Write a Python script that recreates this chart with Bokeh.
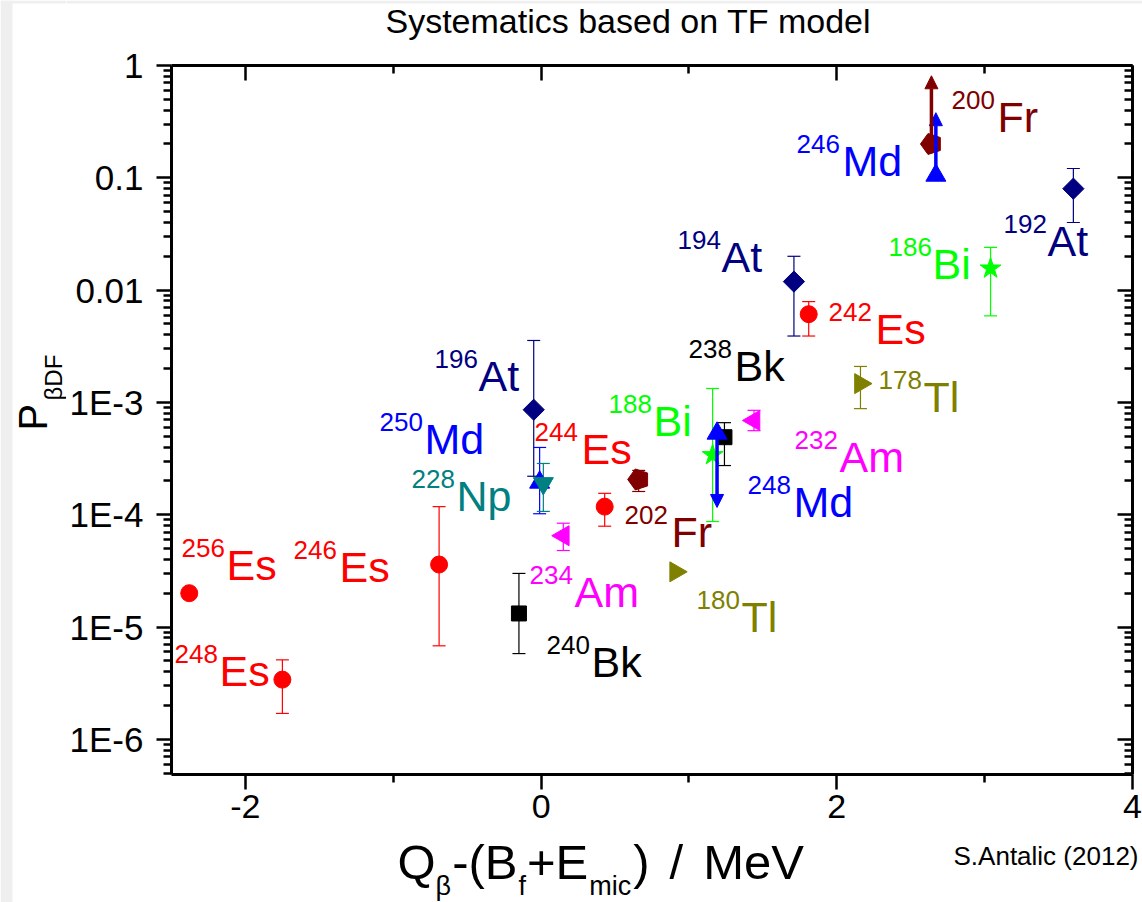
import math
from bokeh.plotting import figure
from bokeh.layouts import row, column
from bokeh.models import (Range1d, LinearAxis, LogAxis, FixedTicker, CustomJSTickFormatter,
                          ColumnDataSource, Whisker, TeeHead, Arrow, NormalHead, Label,
                          BoxAnnotation)
from bokeh.embed import file_html
from bokeh.resources import INLINE

NAN = float("nan")

# ---------------- axes data ----------------
x_range_limits = [-2.5, 4.0]
y_range_limits = [4.86e-7, 1.0]
x_tick_values = [-2, 0, 2, 4]
x_tick_labels = ["-2", "0", "2", "4"]
x_minor_ticks = [-1, 1, 3]
y_tick_values = [1e-6, 1e-5, 1e-4, 1e-3, 1e-2, 1e-1, 1.0]
y_tick_labels = ["1E-6", "1E-5", "1E-4", "1E-3", "0.01", "0.1", "1"]
y_minor_mantissas = [2, 3, 4, 5, 6, 7, 8, 9]

title_text = "Systematics based on TF model"
credit_text = "S.Antalic (2012)"

# ---------------- series data ----------------
es_mass = ["256", "248", "246", "244", "242"]
es_q = [-2.38, -1.75, -0.69, 0.43, 1.81]
es_p = [2.0e-5, 3.4e-6, 3.6e-5, 1.18e-4, 6.1e-3]
es_lo = [NAN, 1.7e-6, 6.8e-6, 7.9e-5, 3.9e-3]
es_hi = [NAN, 5.1e-6, 1.18e-4, 1.55e-4, 7.9e-3]

bk_mass = ["240", "238"]
bk_q = [-0.15, 1.24]
bk_p = [1.32e-5, 4.9e-4]
bk_lo = [5.8e-6, 2.74e-4]
bk_hi = [3.0e-5, 6.6e-4]

at_mass = ["196", "194", "192"]
at_q = [-0.05, 1.71, 3.60]
at_p = [8.6e-4, 1.19e-2, 8.0e-2]
at_lo = [2.2e-4, 3.9e-3, 4.0e-2]
at_hi = [3.56e-3, 2.0e-2, 1.21e-1]

md_mass = ["250", "248", "246"]
md_q = [-0.01, 1.19, 2.67]
md_p = [1.94e-4, 5.3e-4, 1.05e-1]
md_lo = [1.02e-4, NAN, NAN]
md_hi = [3.97e-4, NAN, NAN]
md_limit = [NAN, 1.16e-4, 3.8e-1]

np_mass = ["228"]
np_q = [0.015]
np_p = [1.9e-4]
np_lo = [1.07e-4]
np_hi = [2.86e-4]

am_mass = ["234", "232"]
am_q = [0.15, 1.44]
am_p = [6.5e-5, 6.9e-4]
am_lo = [4.8e-5, 5.6e-4]
am_hi = [8.4e-5, 8.5e-4]

fr_mass = ["202", "200"]
fr_q = [0.66, 2.64]
fr_p = [2.06e-4, 0.20]
fr_lo = [1.61e-4, NAN]
fr_hi = [2.48e-4, NAN]
fr_limit = [NAN, 0.81]

tl_mass = ["180", "178"]
tl_q = [0.91, 2.16]
tl_p = [3.1e-5, 1.47e-3]
tl_lo = [NAN, 8.8e-4]
tl_hi = [NAN, 2.09e-3]

bi_mass = ["188", "186"]
bi_q = [1.16, 3.04]
bi_p = [3.4e-4, 1.56e-2]
bi_lo = [8.7e-5, 5.9e-3]
bi_hi = [1.33e-3, 2.4e-2]

# ---------------- layout / style ----------------
PAGE_W, PAGE_H = 1142, 902
FRAME_L, FRAME_T, FRAME_W, FRAME_H = 170, 65, 961, 709
YLAB_W = 66          # left strip holding the rotated y title
TITLE_H = 40         # top strip holding the chart title
XLAB_H = 70          # bottom strip holding the x title
FONT = "Liberation Sans"
TXT_SHIFT = 17       # anchor -> visual baseline correction (page px)
EDGE_GRAY = "#efefef"

# label layout in page pixels: superscript left x, element left x, element baseline y
label_layout = {
    "256Es": (180, 225, 581), "248Es": (173, 218, 687), "246Es": (292, 338, 583),
    "244Es": (533, 580, 465), "242Es": (827, 874, 345),
    "240Bk": (545, 590, 678), "238Bk": (687, 733, 382),
    "196At": (433, 477, 392), "194At": (676, 720, 273), "192At": (1002, 1046, 257),
    "250Md": (378, 423, 455), "248Md": (746, 792, 518), "246Md": (795, 841, 177),
    "228Np": (410, 455, 512),
    "234Am": (528, 573, 608), "232Am": (793, 838, 473),
    "202Fr": (623, 670, 548), "200Fr": (950, 996, 133),
    "180Tl": (695, 740, 633), "178Tl": (877, 922, 413),
    "188Bi": (607, 652, 437), "186Bi": (887, 931, 280),
}

groups = [
    dict(sym="Es", color="#FF0000", marker="circle", size=17, angle=0.0,
         mass=es_mass, q=es_q, p=es_p, lo=es_lo, hi=es_hi, limit=None),
    dict(sym="Bk", color="#000000", marker="square", size=15, angle=0.0,
         mass=bk_mass, q=bk_q, p=bk_p, lo=bk_lo, hi=bk_hi, limit=None),
    dict(sym="At", color="#000080", marker="square", size=15, angle=math.pi / 4,
         mass=at_mass, q=at_q, p=at_p, lo=at_lo, hi=at_hi, limit=None),
    dict(sym="Md", color="#0000FF", marker="triangle", size=20, angle=0.0,
         mass=md_mass, q=md_q, p=md_p, lo=md_lo, hi=md_hi, limit=md_limit),
    dict(sym="Np", color="#008080", marker="inverted_triangle", size=20, angle=0.0,
         mass=np_mass, q=np_q, p=np_p, lo=np_lo, hi=np_hi, limit=None),
    dict(sym="Am", color="#FF00FF", marker="triangle", size=20, angle=math.pi / 2,
         mass=am_mass, q=am_q, p=am_p, lo=am_lo, hi=am_hi, limit=None),
    dict(sym="Fr", color="#800000", marker="pentagon", size=11, angle=0.0,
         mass=fr_mass, q=fr_q, p=fr_p, lo=fr_lo, hi=fr_hi, limit=fr_limit),
    dict(sym="Tl", color="#808000", marker="triangle", size=20, angle=-math.pi / 2,
         mass=tl_mass, q=tl_q, p=tl_p, lo=tl_lo, hi=tl_hi, limit=None),
    dict(sym="Bi", color="#00FF00", marker="star", size=22, angle=0.0,
         mass=bi_mass, q=bi_q, p=bi_p, lo=bi_lo, hi=bi_hi, limit=None),
]


def X(px):
    a, b = x_range_limits
    return a + (px - FRAME_L) / FRAME_W * (b - a)


def Y(py):
    lo, hi = math.log10(y_range_limits[0]), math.log10(y_range_limits[1])
    return 10 ** (hi - (py - FRAME_T) / FRAME_H * (hi - lo))


MAIN_W = PAGE_W - YLAB_W
p = figure(frame_width=FRAME_W, frame_height=FRAME_H,
           x_range=Range1d(*x_range_limits), y_range=Range1d(*y_range_limits),
           y_axis_type="log", output_backend="svg", toolbar_location=None,
           min_border_left=FRAME_L - YLAB_W, min_border_right=PAGE_W - FRAME_L - FRAME_W,
           min_border_top=FRAME_T - TITLE_H,
           min_border_bottom=PAGE_H - FRAME_T - FRAME_H - XLAB_H,
           background_fill_color="white", border_fill_color="white")
p.outline_line_color = None
p.xgrid.visible = False
p.ygrid.visible = False

fmt_code = """
let best = -1, bd = Infinity;
for (let i = 0; i < vals.length; i++) {
  const d = Math.abs(vals[i] - tick);
  if (d < bd) { bd = d; best = i; }
}
return (best >= 0 && bd <= 1e-6 * Math.max(Math.abs(vals[best]), 1e-12) + 1e-12) ? labs[best] : "";
"""
x_fmt = CustomJSTickFormatter(args=dict(vals=x_tick_values, labs=x_tick_labels), code=fmt_code)
y_fmt = CustomJSTickFormatter(args=dict(vals=y_tick_values, labs=y_tick_labels), code=fmt_code)
blank_fmt = CustomJSTickFormatter(code="return '';")

y_minor = [m * v for v in y_tick_values + [1e-7] for m in y_minor_mantissas]


def style_axis(ax, ticker, formatter, inward, font_size):
    ax.ticker = ticker
    ax.formatter = formatter
    ax.axis_line_width = 3
    ax.axis_line_color = "black"
    ax.major_tick_line_width = 2.5
    ax.minor_tick_line_width = 2.5
    ax.major_tick_line_color = "black"
    ax.minor_tick_line_color = "black"
    if inward:
        ax.major_tick_in, ax.major_tick_out = 15, 0
        ax.minor_tick_in, ax.minor_tick_out = 8, 0
    else:
        ax.major_tick_in, ax.major_tick_out = 0, 15
        ax.minor_tick_in, ax.minor_tick_out = 0, 8
    ax.major_label_text_font = FONT
    ax.major_label_text_font_size = font_size
    ax.major_label_text_color = "black"


style_axis(p.xaxis[0], FixedTicker(ticks=x_tick_values, minor_ticks=x_minor_ticks), x_fmt, False, "34px")
style_axis(p.yaxis[0], FixedTicker(ticks=y_tick_values, minor_ticks=y_minor), y_fmt, False, "35px")
p.xaxis[0].major_label_standoff = 5
p.yaxis[0].major_label_standoff = 13

top_ax = LinearAxis()
style_axis(top_ax, FixedTicker(ticks=x_tick_values, minor_ticks=x_minor_ticks), blank_fmt, True, "1px")
top_ax.major_label_standoff = 0
p.add_layout(top_ax, "above")
right_ax = LogAxis()
style_axis(right_ax, FixedTicker(ticks=y_tick_values, minor_ticks=y_minor), blank_fmt, True, "1px")
right_ax.major_label_standoff = 0
p.add_layout(right_ax, "right")

# ---------------- data marks ----------------
for g in groups:
    c = g["color"]
    eb = [(q, lo, hi) for q, lo, hi in zip(g["q"], g["lo"], g["hi"]) if not math.isnan(lo)]
    if eb:
        src_e = ColumnDataSource(dict(base=[e[0] for e in eb], lower=[e[1] for e in eb],
                                      upper=[e[2] for e in eb]))
        w = Whisker(source=src_e, base="base", lower="lower", upper="upper", dimension="height",
                    line_color=c, line_width=1.2,
                    upper_head=TeeHead(size=13, line_color=c, line_width=1.2),
                    lower_head=TeeHead(size=13, line_color=c, line_width=1.2))
        w.level = "underlay"
        p.add_layout(w)
    src = ColumnDataSource(dict(q=g["q"], p=g["p"]))
    if g["marker"] == "pentagon":
        p.ngon(x="q", y="p", radius=g["size"], radius_units="screen", n=5, angle=math.pi / 2,
               source=src, fill_color=c, line_color=c)
    else:
        p.scatter(x="q", y="p", source=src, marker=g["marker"], size=g["size"], angle=g["angle"],
                  fill_color=c, line_color=c)
    if g["limit"] is not None:
        for q, val, lim in zip(g["q"], g["p"], g["limit"]):
            if math.isnan(lim):
                continue
            p.add_layout(Arrow(x_start=q, y_start=val, x_end=q, y_end=lim,
                               line_color=c, line_width=3.5,
                               end=NormalHead(size=13, fill_color=c, line_color=c)))
    for m in g["mass"]:
        key = m + g["sym"]
        sx, ex, by = label_layout[key]
        p.add_layout(Label(x=X(sx), y=Y(by - 21 - TXT_SHIFT + 4), text=m, text_font=FONT,
                           text_font_size="26px", text_color=c, text_align="left",
                           text_baseline="alphabetic"))
        p.add_layout(Label(x=X(ex), y=Y(by - TXT_SHIFT), text=g["sym"], text_font=FONT,
                           text_font_size="43px", text_color=c, text_align="left",
                           text_baseline="alphabetic"))


# ---------------- text strips (pixel coordinates) ----------------
def text_fig(w, h):
    f = figure(width=w, height=h, x_range=Range1d(0, w), y_range=Range1d(h, 0),
               output_backend="svg", toolbar_location=None, min_border=0,
               x_axis_location=None, y_axis_location=None,
               background_fill_color="white", border_fill_color="white")
    f.outline_line_color = None
    f.grid.visible = False
    try:
        f.frame_align = False
    except Exception:
        pass
    return f


title_fig = text_fig(MAIN_W, TITLE_H)
title_fig.add_layout(BoxAnnotation(top=0, bottom=3, fill_color=EDGE_GRAY, fill_alpha=1.0,
                                   line_color=None, level="underlay"))
title_fig.add_layout(Label(x=385 - YLAB_W, y=20, text=title_text, text_font=FONT,
                           text_font_size="34px", text_color="black", text_align="left",
                           text_baseline="alphabetic"))

XLAB_TOP = PAGE_H - XLAB_H
xlab_fig = text_fig(MAIN_W, XLAB_H)
char_w = {"Q": 778, "\u03b2": 575, "-": 333, "(": 333, ")": 333, "B": 667, "f": 278, "+": 584,
          "E": 667, "m": 833, "i": 222, "c": 500, " ": 278, "/": 278, "M": 833, "e": 556, "V": 667}
x_title = [("Q", False), ("\u03b2", True), ("-(B", False), ("f", True), ("+E", False),
           ("mic", True), (")", False), ("/", False), ("MeV", False)]
x_title_gap = [0, 1, 1, 1, 1, 2, 20, 20, 0]
MAIN_FS, SUB_FS = 49, 27
cx = 397 - YLAB_W
for (txt, sub), gap in zip(x_title, x_title_gap):
    fs = SUB_FS if sub else MAIN_FS
    yy = (885 if sub else 861) - XLAB_TOP
    xlab_fig.add_layout(Label(x=cx, y=yy, text=txt, text_font=FONT, text_font_size=f"{fs}px",
                              text_color="black", text_align="left", text_baseline="alphabetic"))
    cx += sum(char_w.get(ch, 556) for ch in txt) / 1000 * fs + gap
xlab_fig.add_layout(Label(x=1138 - YLAB_W, y=855 - XLAB_TOP, text=credit_text, text_font=FONT,
                          text_font_size="26px", text_color="black", text_align="right",
                          text_baseline="alphabetic"))

ylab_fig = text_fig(YLAB_W, PAGE_H)
ylab_fig.add_layout(BoxAnnotation(left=0, right=12, fill_color=EDGE_GRAY, fill_alpha=1.0,
                                  line_color=None, level="underlay"))
ylab_fig.add_layout(BoxAnnotation(top=0, bottom=3, fill_color=EDGE_GRAY, fill_alpha=1.0,
                                  line_color=None, level="underlay"))
ylab_fig.add_layout(Label(x=32, y=430, text="P", text_font=FONT, text_font_size="40px",
                          text_color="black", text_align="left", text_baseline="alphabetic",
                          angle=math.pi / 2))
ylab_fig.add_layout(Label(x=53, y=400, text="\u03b2DF", text_font=FONT, text_font_size="24px",
                          text_color="black", text_align="left", text_baseline="alphabetic",
                          angle=math.pi / 2))

layout = row(ylab_fig, column(title_fig, p, xlab_fig, spacing=0), spacing=0)
open("out.html", "w").write(file_html(layout, INLINE))
